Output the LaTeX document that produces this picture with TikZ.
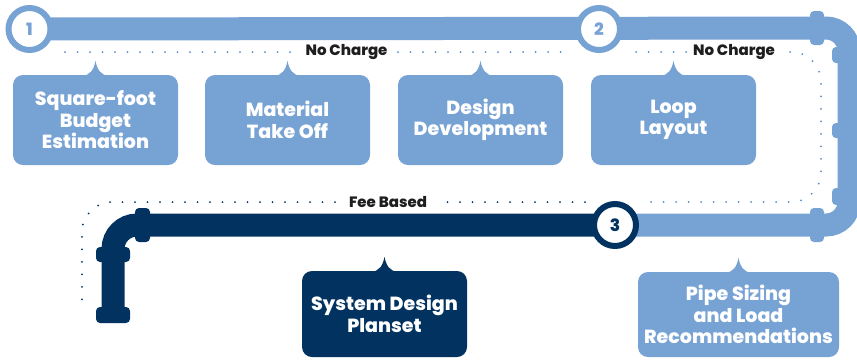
\documentclass[tikz,border=0pt]{standalone}
\usepackage{fontspec}
\setmainfont{Poppins}[BoldFont={Poppins ExtraBold}]
\definecolor{lb}{HTML}{76A2D4}
\definecolor{nv}{HTML}{02325F}
\definecolor{dotb}{HTML}{5A8AC6}
\definecolor{txt}{HTML}{1E1E1E}
\newcommand{\mynotch}[2]{\fill[#2, shift={(#1.north)}] (-14,1) .. controls (-5,1) and (-1.5,-6) .. (0,-14) .. controls (1.5,-6) and (5,1) .. (14,1) -- cycle;}
\begin{document}
\begin{tikzpicture}[x=1pt,y=-1pt,
 pipe/.style={line width=23pt},
 flange/.style={rounded corners=4pt},
 dots/.style={line width=2pt, line cap=round, dash pattern=on 0pt off 12.5pt},
 stepbox/.style={rounded corners=10pt, minimum width=165pt, minimum height=90pt, text=white, font=\bfseries\fontsize{19}{21.5}\selectfont, align=center, inner sep=0pt},
 num/.style={circle, line width=6pt, fill=white, minimum size=42pt, inner sep=0pt, font=\bfseries\fontsize{17}{17}\selectfont},
 lbl/.style={font=\bfseries\fontsize{15}{15}\selectfont, text=txt, inner sep=0pt}
]
\useasboundingbox (0,0) rectangle (857,360);
\clip (0,0) rectangle (857,360);

% coordinates
\coordinate (k1) at (849,28);
\coordinate (k2) at (849,225);
\coordinate (k3) at (113,225);
\coordinate (k4) at (113,318);

% dotted guide lines
\coordinate (d1a) at (65,52);   \coordinate (d1b) at (297,52);
\coordinate (d2a) at (398,52);  \coordinate (d2b) at (562,52);
\coordinate (d3a) at (636,52);  \coordinate (d3b) at (688,52);
\coordinate (d4a) at (790,52);  \coordinate (d4c) at (821,52);
\coordinate (d4d) at (821,202); \coordinate (d4b) at (642,202);
\coordinate (d5a) at (585,202); \coordinate (d5b) at (440,202);
\coordinate (d6a) at (335,202); \coordinate (d6c) at (82,202);
\coordinate (d6b) at (82,300);
\draw[dots, dotb] (d1a) -- (d1b);
\draw[dots, dotb] (d2a) -- (d2b);
\draw[dots, dotb] (d3a) -- (d3b);
\draw[dots, dotb, rounded corners=30pt] (d4a) -- (d4c) -- (d4d) -- (d4b);
\draw[dots, nv] (d5a) -- (d5b);
\draw[dots, nv, rounded corners=30pt] (d6a) -- (d6c) -- (d6b);

\node[lbl] (nc1) at (346.5,52) {No Charge};
\node[lbl] (nc2) at (734,52) {No Charge};
\node[lbl] (fb) at (388,202) {Fee Based};

% circles (positions)
\coordinate (p1) at (29.5,29);
\coordinate (p2) at (599,29);
\coordinate (p3) at (615,225);

% pipes
\draw[pipe, lb, rounded corners=23pt] (p1) -- (k1) -- (k2) -- (p3);
\draw[pipe, nv, rounded corners=24pt] (p3) -- (k3) -- (k4);

% flanges light
\fill[lb, flange] (810,11) rectangle (824,45);
\fill[lb, flange] (832,47) rectangle (868,63);
\fill[lb, flange] (832,123) rectangle (868,138);
\fill[lb, flange] (832,188) rectangle (868,205);
\fill[lb, flange] (810,208) rectangle (824,242);
% flanges dark
\fill[nv, flange] (135,208) rectangle (150,242);
\fill[nv, flange] (96,247) rectangle (130,262);
\fill[nv, flange] (96,307) rectangle (130,323);

% numbered circles
\node[num, draw=lb, text=lb] (c1) at (p1) {1};
\node[num, draw=lb, text=lb] (c2) at (p2) {2};
\node[num, draw=nv, text=nv] (c3) at (p3) {3};

% boxes
\node[stepbox, fill=lb] (b1) at (95.5,120) {Square-foot\\Budget\\Estimation};
\node[stepbox, fill=lb] (b2) at (287.5,120) {Material\\Take Off};
\node[stepbox, fill=lb] (b3) at (480.5,120) {Design\\Development};
\node[stepbox, fill=lb] (b4) at (673.5,120) {Loop\\Layout};
\node[stepbox, fill=nv, minimum height=86pt] (b5) at (384.5,314) {System Design\\Planset};
\node[stepbox, fill=lb, minimum width=201pt, minimum height=85pt] (b6) at (738.5,314.5) {Pipe Sizing\\and Load\\Recommendations};
\mynotch{b1}{lb}
\mynotch{b2}{lb}
\mynotch{b3}{lb}
\mynotch{b4}{lb}
\mynotch{b5}{nv}
\mynotch{b6}{lb}
\end{tikzpicture}
\end{document}
